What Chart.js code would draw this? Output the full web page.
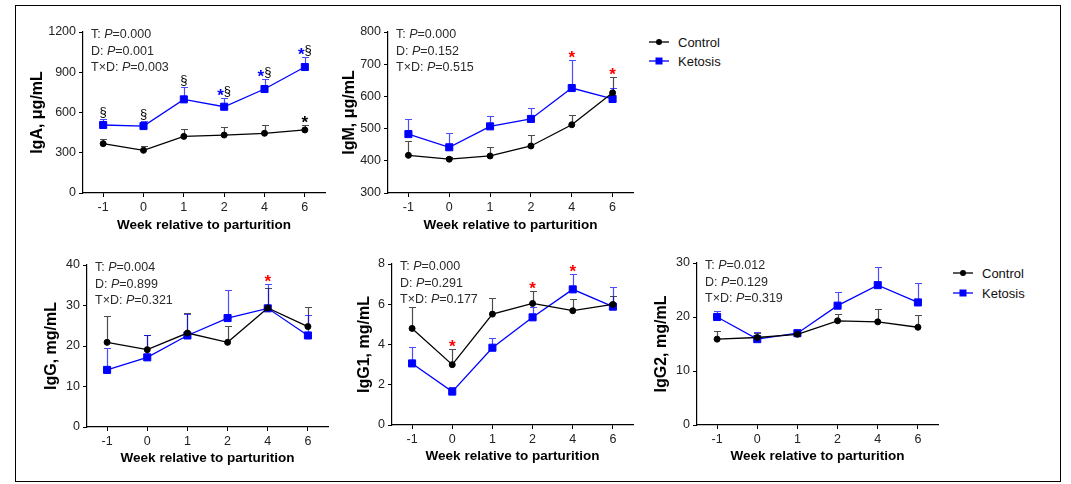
<!DOCTYPE html>
<html><head><meta charset="utf-8">
<script src="https://cdn.jsdelivr.net/npm/chart.js@4"></script>
<style>
body{margin:0;background:#fff;width:1071px;height:484px;position:relative;overflow:hidden;font-family:"Liberation Sans",Arial,sans-serif}
#frame{position:absolute;left:15px;top:5px;width:1046px;height:477px;border:1px solid #000;box-sizing:border-box}
canvas{position:absolute}
.lg{position:absolute;height:16px;display:flex;align-items:center;font-size:13px;color:#111}
.lg svg{margin-right:9px}
</style>
</head><body>
<div id="frame"></div>
<canvas id="c1"></canvas><canvas id="c2"></canvas><canvas id="c3"></canvas><canvas id="c4"></canvas><canvas id="c5"></canvas>
<div class="lg" style="left:649px;top:34px"><svg width="20" height="10"><line x1="0" y1="5" x2="20" y2="5" stroke="#000" stroke-width="1.3"/><circle cx="10" cy="5" r="3" fill="#000"/></svg>Control</div>
<div class="lg" style="left:649px;top:53px"><svg width="20" height="10"><line x1="0" y1="5" x2="20" y2="5" stroke="#0000ff" stroke-width="1.3"/><rect x="6.5" y="1.5" width="7" height="7" fill="#0000ff"/></svg>Ketosis</div>
<div class="lg" style="left:953px;top:265px"><svg width="20" height="10"><line x1="0" y1="5" x2="20" y2="5" stroke="#000" stroke-width="1.3"/><circle cx="10" cy="5" r="3" fill="#000"/></svg>Control</div>
<div class="lg" style="left:953px;top:285px"><svg width="20" height="10"><line x1="0" y1="5" x2="20" y2="5" stroke="#0000ff" stroke-width="1.3"/><rect x="6.5" y="1.5" width="7" height="7" fill="#0000ff"/></svg>Ketosis</div>
<script>
// ---- data ----
const weeks = ['-1','0','1','2','4','6'];

const igaControl    = [368, 318, 422, 432, 445, 470];
const igaControlErr = [34, 30, 55, 60, 62, 37];
const igaKetosis    = [507, 499, 698, 643, 775, 939];
const igaKetosisErr = [47, 35, 92, 62, 77, 75];

const igmControl    = [417, 405, 415, 446, 512, 611];
const igmControlErr = [43, 8, 28, 33, 30, 49];
const igmKetosis    = [483, 442, 507, 530, 626, 592];
const igmKetosisErr = [47, 44, 31, 34, 86, 34];

const iggControl    = [20.9, 19.1, 23.2, 20.9, 29.4, 24.8];
const iggControlErr = [6.4, 3.7, 4.9, 4.1, 4.9, 4.9];
const iggKetosis    = [14.1, 17.2, 22.6, 26.9, 29.3, 22.6];
const iggKetosisErr = [5.4, 5.6, 5.3, 6.9, 6.0, 5.1];

const igg1Control    = [4.8, 3.0, 5.51, 6.04, 5.68, 5.99];
const igg1ControlErr = [1.05, 0.76, 0.78, 0.63, 0.56, 0.4];
const igg1Ketosis    = [3.06, 1.66, 3.84, 5.35, 6.74, 5.88];
const igg1KetosisErr = [0.8, 0.25, 0.47, 0.5, 0.74, 1.0];

const igg2Control    = [15.9, 16.2, 16.8, 19.3, 19.1, 18.1];
const igg2ControlErr = [1.5, 0.9, 0.5, 1.3, 2.4, 2.2];
const igg2Ketosis    = [20.0, 15.9, 17.0, 22.1, 25.9, 22.7];
const igg2KetosisErr = [1.1, 1.3, 0.6, 2.5, 3.4, 3.6];

const igaP  = ['0.000', '0.001', '0.003'];
const igmP  = ['0.000', '0.152', '0.515'];
const iggP  = ['0.004', '0.899', '0.321'];
const igg1P = ['0.000', '0.291', '0.177'];
const igg2P = ['0.012', '0.129', '0.319'];

// significance marks: series 0=Control, 1=Ketosis; parts = [text, color]
const igaMarks = [
  {s:1, i:0, parts:[['§','#000']]},
  {s:1, i:1, parts:[['§','#000']]},
  {s:1, i:2, parts:[['§','#000']]},
  {s:1, i:3, parts:[['*','#0000ff'],['§','#000']]},
  {s:1, i:4, parts:[['*','#0000ff'],['§','#000']]},
  {s:1, i:5, parts:[['*','#0000ff'],['§','#000']]},
  {s:0, i:5, parts:[['*','#000']]}
];
const igmMarks  = [{s:1, i:4, parts:[['*','#ff0000']]}, {s:0, i:5, parts:[['*','#ff0000']]}];
const iggMarks  = [{s:1, i:4, parts:[['*','#ff0000']]}];
const igg1Marks = [{s:0, i:1, parts:[['*','#ff0000']]}, {s:0, i:3, parts:[['*','#ff0000']]}, {s:1, i:4, parts:[['*','#ff0000']]}];
const igg2Marks = [];

const FAM = '"Liberation Sans", Arial, sans-serif';

const extras = {
  id: 'extras',
  beforeDatasetsDraw(chart) {
    const ctx = chart.ctx, ys = chart.scales.y;
    chart.data.datasets.forEach((ds, di) => {
      const meta = chart.getDatasetMeta(di);
      ctx.save();
      ctx.strokeStyle = ds.errColor; ctx.lineWidth = 1.2;
      meta.data.forEach((pt, i) => {
        const top = Math.round(ys.getPixelForValue(ds.data[i] + ds.errors[i])) + 0.5;
        const x = Math.round(pt.x) + 0.5;
        ctx.beginPath();
        ctx.moveTo(x, pt.y); ctx.lineTo(x, top);
        ctx.moveTo(x - 3.5, top); ctx.lineTo(x + 3.5, top);
        ctx.stroke();
      });
      ctx.restore();
    });
  },
  afterDatasetsDraw(chart, args, opts) {
    const ctx = chart.ctx, ys = chart.scales.y, area = chart.chartArea;
    ctx.save();
    (opts.marks || []).forEach(m => {
      const ds = chart.data.datasets[m.s];
      const pt = chart.getDatasetMeta(m.s).data[m.i];
      const top = ys.getPixelForValue(ds.data[m.i] + ds.errors[m.i]);
      const cy = top - 7;
      const fonts = m.parts.map(p => p[0] === '*' ? 'bold 17px ' + FAM : '13px ' + FAM);
      const widths = m.parts.map((p, k) => { ctx.font = fonts[k]; return ctx.measureText(p[0]).width; });
      let x = pt.x - widths.reduce((a, b) => a + b, 0) / 2;
      ctx.textAlign = 'left'; ctx.textBaseline = 'alphabetic';
      m.parts.forEach((p, k) => {
        ctx.font = fonts[k]; ctx.fillStyle = p[1];
        const by = p[0] === '*' ? cy + 0.58 * 17 : cy + 0.3 * 13;
        ctx.fillText(p[0], x, by);
        x += widths[k];
      });
    });
    // P-value text
    const labels = ['T: ', 'D: ', 'T\u00d7D: '];
    (opts.pvals || []).forEach((v, k) => {
      const y = area.top + 3 + k * 16.5;
      let x = area.left + 8;
      ctx.textBaseline = 'middle'; ctx.fillStyle = '#2a2a2a';
      ctx.font = '12.5px ' + FAM; ctx.fillText(labels[k], x, y); x += ctx.measureText(labels[k]).width;
      ctx.font = 'italic 12.5px ' + FAM; ctx.fillText('P', x, y); x += ctx.measureText('P').width;
      ctx.font = '12.5px ' + FAM; ctx.fillText('=' + v, x, y);
    });
    ctx.restore();
  }
};

function makeChart(id, cfg) {
  const cv = document.getElementById(id);
  const w = cfg.yw + (cfg.ar - cfg.al) + 8;
  const h = 14 + (cfg.ab - cfg.at) + cfg.xh;
  cv.width = w; cv.height = h;
  cv.style.left = (cfg.al - cfg.yw) + 'px';
  cv.style.top = (cfg.at - 14) + 'px';
  cv.style.width = w + 'px'; cv.style.height = h + 'px';
  new Chart(cv, {
    type: 'line',
    data: {
      labels: weeks,
      datasets: [
        {label: 'Control', data: cfg.c, errors: cfg.ce, borderColor: '#000', backgroundColor: '#000',
         pointStyle: 'circle', pointRadius: 3, pointBorderWidth: 1, borderWidth: 1.3, errColor: 'rgba(0,0,0,0.7)'},
        {label: 'Ketosis', data: cfg.k, errors: cfg.ke, borderColor: '#0000ff', backgroundColor: '#0000ff',
         pointStyle: 'rect', pointRadius: 5, pointBorderWidth: 1, borderWidth: 1.3, errColor: 'rgba(0,0,255,0.7)'}
      ]
    },
    options: {
      responsive: false, animation: false, devicePixelRatio: 1,
      layout: {padding: {top: 14, right: 8, left: 0, bottom: 0}},
      plugins: {legend: {display: false}, tooltip: {enabled: false},
        extras: {marks: cfg.marks, pvals: cfg.p}},
      scales: {
        x: {
          offset: true,
          grid: {display: true, drawOnChartArea: false, drawTicks: true, tickLength: 4, color: '#000', offset: false},
          border: {display: true, color: '#000', width: 1.2},
          ticks: {color: '#222', font: {size: 12.5, family: FAM}, padding: 3, maxRotation: 0},
          title: {display: true, text: 'Week relative to parturition', color: '#000',
                  font: {size: 13.5, weight: 'bold', family: FAM}, padding: {top: 4, bottom: 4}},
          afterFit(s) { s.height = cfg.xh; }
        },
        y: {
          min: cfg.min, max: cfg.max,
          grid: {display: true, drawOnChartArea: false, drawTicks: true, tickLength: 4, color: '#000'},
          border: {display: true, color: '#000', width: 1.2},
          ticks: {stepSize: cfg.step, color: '#222', font: {size: 12.5, family: FAM}, padding: 3,
                  callback: v => String(v)},
          title: {display: true, text: cfg.ytitle, color: '#000',
                  font: {size: 16, weight: 'bold', family: FAM}, padding: {top: 4, bottom: 4}},
          afterFit(s) { s.width = cfg.yw; }
        }
      }
    },
    plugins: [extras]
  });
}

makeChart('c1', {al: 83, ar: 325, at: 32, ab: 193, yw: 59, xh: 44, min: 0, max: 1200, step: 300,
  ytitle: 'IgA, \u03bcg/mL', c: igaControl, ce: igaControlErr, k: igaKetosis, ke: igaKetosisErr, marks: igaMarks, p: igaP});
makeChart('c2', {al: 388, ar: 633, at: 32, ab: 193, yw: 52, xh: 44, min: 300, max: 800, step: 100,
  ytitle: 'IgM, \u03bcg/mL', c: igmControl, ce: igmControlErr, k: igmKetosis, ke: igmKetosisErr, marks: igmMarks, p: igmP});
makeChart('c3', {al: 87, ar: 328, at: 265, ab: 427, yw: 49, xh: 43, min: 0, max: 40, step: 10,
  ytitle: 'IgG, mg/mL', c: iggControl, ce: iggControlErr, k: iggKetosis, ke: iggKetosisErr, marks: iggMarks, p: iggP});
makeChart('c4', {al: 392, ar: 633, at: 264, ab: 425, yw: 41, xh: 43, min: 0, max: 8, step: 2,
  ytitle: 'IgG1, mg/mL', c: igg1Control, ce: igg1ControlErr, k: igg1Ketosis, ke: igg1KetosisErr, marks: igg1Marks, p: igg1P});
makeChart('c5', {al: 697, ar: 938, at: 263, ab: 425, yw: 49, xh: 43, min: 0, max: 30, step: 10,
  ytitle: 'IgG2, mg/mL', c: igg2Control, ce: igg2ControlErr, k: igg2Ketosis, ke: igg2KetosisErr, marks: igg2Marks, p: igg2P});
</script>
</body></html>
